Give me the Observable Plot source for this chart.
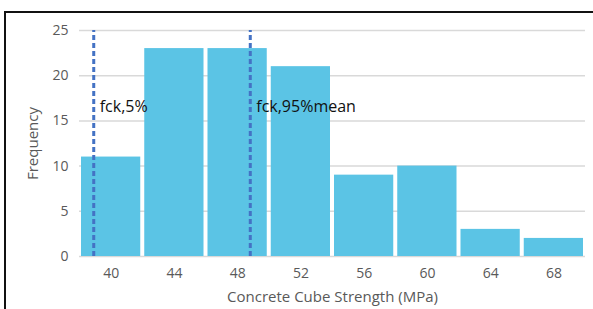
<!DOCTYPE html>
<html>
<head>
<meta charset="utf-8">
<script src="https://cdn.jsdelivr.net/npm/d3@7"></script>
<script src="https://cdn.jsdelivr.net/npm/@observablehq/plot@0.6"></script>
<style>
  html, body { margin: 0; padding: 0; background: #fff; }
  #wrap { position: relative; width: 593px; height: 309px; overflow: hidden; }
  #frame { position: absolute; left: 4px; top: 11px; width: 700px; height: 400px;
           border-top: 2px solid #111; border-left: 2px solid #111; pointer-events: none; }
  #wrap svg g[aria-label="x-axis label"] text, #wrap svg g[aria-label="y-axis label"] text { font-size: 15px; }
</style>
</head>
<body>
<div id="wrap"><div id="frame"></div></div>
<script>
const bins = [40, 44, 48, 52, 56, 60, 64, 68];
const counts = [11, 23, 23, 21, 9, 10, 3, 2];
const yTicks = [0, 5, 10, 15, 20, 25];
const markerValues = [38.9, 48.8];
const markerLabels = ["fck,5%", "fck,95%mean"];
const markerLabelY = [16.5, 16.5];

const data = bins.map((b, i) => ({bin: b, count: counts[i]}));
const markers = markerValues.map((v, i) => ({x: v, label: markerLabels[i], y: markerLabelY[i]}));

const chart = Plot.plot({
  width: 593,
  height: 309,
  marginLeft: 79,
  marginRight: 8,
  marginTop: 30,
  marginBottom: 53,
  style: {fontFamily: "'Open Sans', sans-serif", fontSize: "14px", color: "#595959", background: "transparent"},
  x: {domain: [38, 70]},
  y: {domain: [0, 25]},
  marks: [
    Plot.gridY(yTicks, {stroke: "#d9d9d9", strokeOpacity: 1, strokeWidth: 1.5}),
    Plot.rectY(data, {x1: d => d.bin - 2, x2: d => d.bin + 2, y: "count", fill: "#5bc4e5", insetLeft: 2, insetRight: 2}),
    Plot.ruleX(markers, {x: "x", y1: 0, y2: 25, stroke: "#4472c4", strokeWidth: 3, strokeDasharray: "5,3"}),
    Plot.text(markers, {x: "x", y: "y", text: "label", textAnchor: "start", dx: 6, fontSize: 16, fill: "#111"}),
    Plot.axisY(yTicks, {tickSize: 0, tickPadding: 11, label: "Frequency", labelAnchor: "center", labelArrow: "none", labelOffset: 52, fontSize: 14}),
    Plot.axisX(bins, {tickSize: 0, tickPadding: 12, label: "Concrete Cube Strength (MPa)", labelAnchor: "center", labelArrow: "none", labelOffset: 45, fontSize: 14})
  ]
});
document.getElementById("wrap").insertBefore(chart, document.getElementById("frame"));
</script>
</body>
</html>
